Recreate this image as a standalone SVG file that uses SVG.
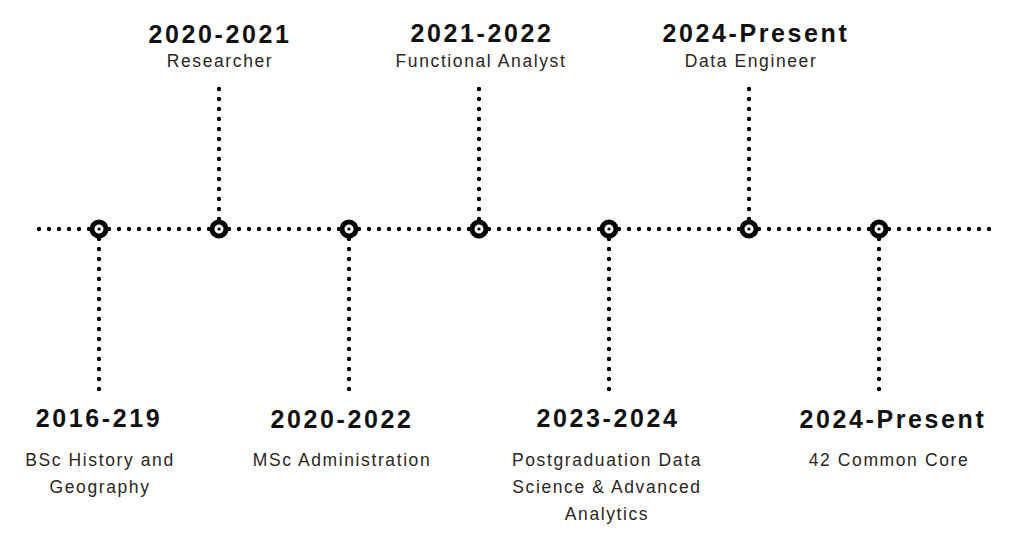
<svg xmlns="http://www.w3.org/2000/svg" width="1024" height="537" viewBox="0 0 1024 537">
<style>
.dot{stroke:#000;stroke-width:4.4;stroke-linecap:round;stroke-dasharray:0 10;fill:none}
.ring{fill:#fff;stroke:#000;stroke-width:5}
.c{fill:#000}
.t{font-family:"Liberation Sans",Arial,sans-serif;font-weight:bold;font-size:25px;letter-spacing:2.6px;fill:#111;text-anchor:middle}
.s{font-family:"Liberation Sans",Arial,sans-serif;font-size:17.5px;letter-spacing:1.6px;fill:#2b2622;text-anchor:middle}
</style>
<rect width="1024" height="537" fill="#fff"/>
<g id="connectors">
<line class="dot" x1="39" y1="229" x2="993" y2="229"/>
<line class="dot" x1="219" y1="89" x2="219" y2="229"/>
<line class="dot" x1="479" y1="89" x2="479" y2="229"/>
<line class="dot" x1="749" y1="89" x2="749" y2="229"/>
<line class="dot" x1="99" y1="229" x2="99" y2="390.5"/>
<line class="dot" x1="349" y1="229" x2="349" y2="390.5"/>
<line class="dot" x1="609" y1="229" x2="609" y2="390.5"/>
<line class="dot" x1="879" y1="229" x2="879" y2="390.5"/>
</g>
<g id="n1"><circle class="ring" cx="99" cy="229" r="7"/><circle class="c" cx="99" cy="229" r="1.6"/>
<text class="t" x="99" y="427">2016-219</text>
<text class="s" x="100" y="466">BSc History and</text>
<text class="s" x="100" y="493">Geography</text></g>
<g id="n2"><circle class="ring" cx="219" cy="229" r="7"/><circle class="c" cx="219" cy="229" r="1.6"/>
<text class="t" x="220" y="43">2020-2021</text>
<text class="s" x="220" y="67">Researcher</text></g>
<g id="n3"><circle class="ring" cx="349" cy="229" r="7"/><circle class="c" cx="349" cy="229" r="1.6"/>
<text class="t" x="342" y="428">2020-2022</text>
<text class="s" x="342" y="466">MSc Administration</text></g>
<g id="n4"><circle class="ring" cx="479" cy="229" r="7"/><circle class="c" cx="479" cy="229" r="1.6"/>
<text class="t" x="482" y="42">2021-2022</text>
<text class="s" x="481" y="67">Functional Analyst</text></g>
<g id="n5"><circle class="ring" cx="609" cy="229" r="7"/><circle class="c" cx="609" cy="229" r="1.6"/>
<text class="t" x="608" y="427">2023-2024</text>
<text class="s" x="607" y="466">Postgraduation Data</text>
<text class="s" x="607" y="493">Science &amp; Advanced</text>
<text class="s" x="607" y="520">Analytics</text></g>
<g id="n6"><circle class="ring" cx="749" cy="229" r="7"/><circle class="c" cx="749" cy="229" r="1.6"/>
<text class="t" x="756" y="42">2024-Present</text>
<text class="s" x="751" y="67">Data Engineer</text></g>
<g id="n7"><circle class="ring" cx="879" cy="229" r="7"/><circle class="c" cx="879" cy="229" r="1.6"/>
<text class="t" x="893" y="428">2024-Present</text>
<text class="s" x="889" y="466">42 Common Core</text></g>
</svg>
